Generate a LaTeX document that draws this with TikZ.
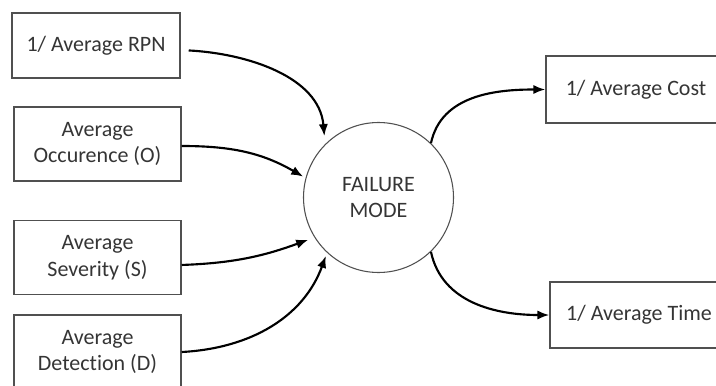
\documentclass[tikz,border=0pt]{standalone}
\usepackage{fontspec}
\setmainfont{Carlito}[Ligatures=NoCommon]
\usetikzlibrary{arrows.meta}
\definecolor{txtgray}{HTML}{353535}
\definecolor{linegray}{HTML}{505050}

\begin{document}
\begin{tikzpicture}[x=0.75pt, y=0.75pt,
	inbox/.style={draw=linegray, line width=1.1pt, text=txtgray, align=center, inner sep=0pt,
		minimum width=125.25pt, minimum height=55.5pt, font=\fontsize{16.5}{20}\selectfont},
	outbox/.style={inbox, minimum width=135pt, minimum height=50pt},
	mode/.style={inbox, circle, line width=0.8pt, minimum size=112.5pt},
	link/.style={-{Latex[length=9pt,width=7pt]}, line width=1.6pt, black}]
	\useasboundingbox (0,0) rectangle (716,-385);
	\clip (0,0) rectangle (716,-385);

	% inputs
	\node[inbox, minimum width=126pt, minimum height=48.75pt] (rpn) at (96,-45.5) {1/ Average RPN};
	\node[inbox] (occ) at (97.5,-144) {Average\\Occurence (O)};
	\node[inbox] (sev) at (97.5,-257.5) {Average\\Severity (S)};
	\node[inbox] (det) at (97.5,-352) {Average\\Detection (D)};

	% failure mode
	\node[mode] (fm) at (378.5,-197.5) {FAILURE\\MODE};

	% outputs
	\node[outbox] (cost) at (636,-89.5) {1/ Average Cost};
	\node[outbox, minimum width=133.5pt, minimum height=49.5pt] (time) at (639,-315) {1/ Average Time};

	\draw[link, shorten <=6pt, shorten >=6pt] ([yshift=-3.4pt]rpn.east) to[out=-3, in=95] (fm.135);
	\draw[link, shorten >=2pt] ([yshift=-1.5pt]occ.east) to[out=0, in=150] (fm.165);
	\draw[link, shorten >=5pt] ([yshift=-5.6pt]sev.east) to[out=2, in=200] (fm.212);
	\draw[link, shorten >=2.5pt] (det.east) to[out=3, in=250] (fm.227);

	\draw[link] (fm.46) to[out=78, in=180] (cost.west);
	\draw[link] (fm.-46) to[out=-78, in=180] (time.west);
\end{tikzpicture}
\end{document}
